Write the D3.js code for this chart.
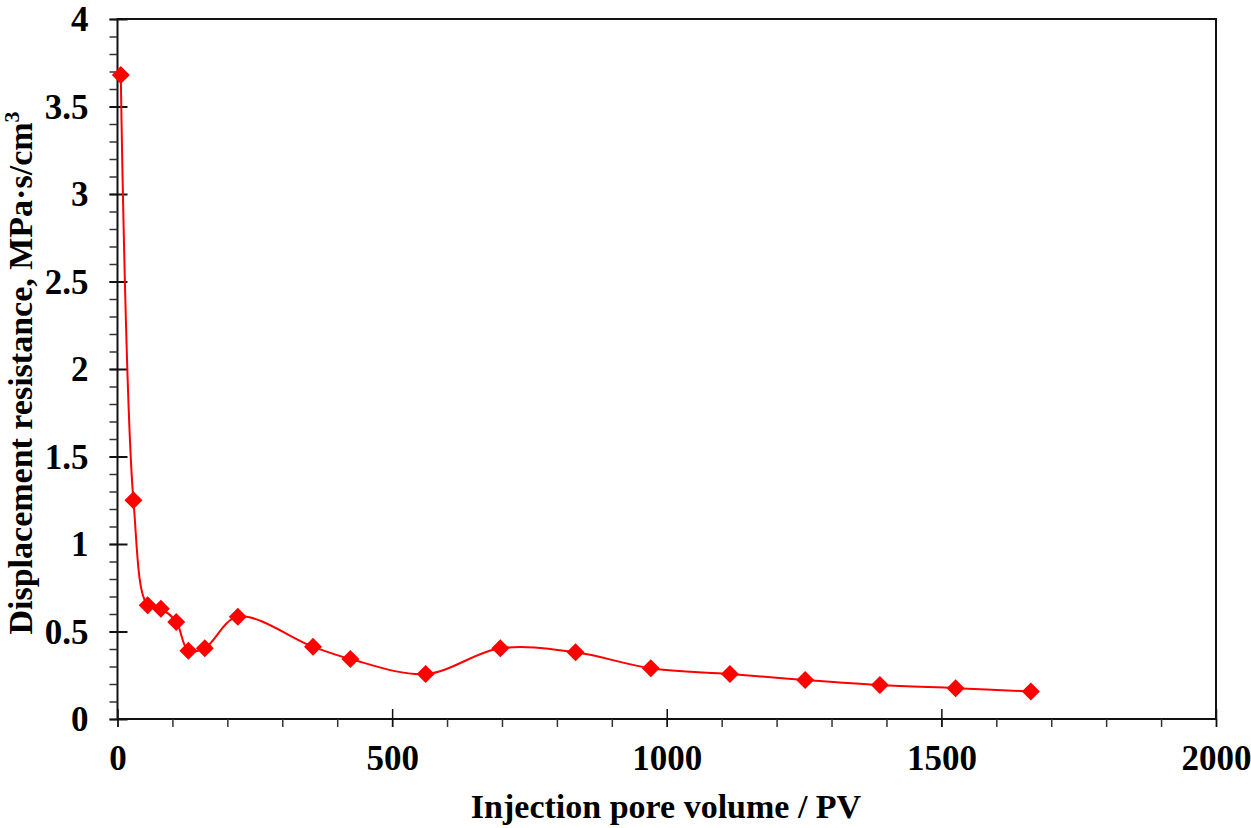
<!DOCTYPE html>
<html>
<head>
<meta charset="utf-8">
<script src="https://cdn.jsdelivr.net/npm/d3@7"></script>
<style>
  body { margin: 0; background: #fff; }
  svg text { font-family: "Liberation Serif", "Times New Roman", serif; font-weight: bold; fill: #000; }
</style>
</head>
<body>
<svg width="1251" height="828"></svg>
<script>
// data
const pv = [6, 29, 55, 79, 107, 129, 159, 219, 356, 424, 561, 697, 834, 971, 1115, 1252, 1388, 1526, 1663];
const resistance = [3.68, 1.25, 0.65, 0.63, 0.555, 0.39, 0.405, 0.585, 0.413, 0.343, 0.257, 0.404, 0.381, 0.29, 0.257, 0.223, 0.194, 0.176, 0.157];
const xMajorTicks = [0, 500, 1000, 1500, 2000];
const yMajorTicks = [0, 0.5, 1, 1.5, 2, 2.5, 3, 3.5, 4];

function main() {
  var svg = d3.select("svg"),
    left = 117.5,
    right = 1216,
    top = 19,
    bottom = 719;

  var x = d3.scaleLinear().domain([0, 2000]).range([left, right]);
  var y = d3.scaleLinear().domain([0, 4]).range([bottom, top]);

  // frame
  svg.append("rect")
    .attr("x", left).attr("y", top)
    .attr("width", right - left).attr("height", bottom - top)
    .attr("fill", "none").attr("stroke", "#111").attr("stroke-width", 2);

  // minor ticks
  svg.append("g")
    .attr("transform", "translate(0," + bottom + ")")
    .call(d3.axisBottom(x).ticks(20).tickSize(8).tickFormat(""))
    .call((g) => g.select(".domain").remove())
    .selectAll("line").attr("stroke", "#333").attr("stroke-width", 1.5);
  svg.append("g")
    .attr("transform", "translate(" + left + ",0)")
    .call(d3.axisLeft(y).ticks(40).tickSize(8).tickFormat(""))
    .call((g) => g.select(".domain").remove())
    .selectAll("line").attr("stroke", "#333").attr("stroke-width", 1.5);

  // major ticks + labels
  var xAxis = svg.append("g")
    .attr("transform", "translate(0," + bottom + ")")
    .call(d3.axisBottom(x).tickValues(xMajorTicks).tickSize(8).tickFormat(d3.format("d")));
  xAxis.select(".domain").remove();
  xAxis.selectAll(".tick line").attr("y1", -10).attr("stroke", "#111").attr("stroke-width", 1.5);
  xAxis.selectAll(".tick text")
    .attr("y", 51).attr("dy", 0)
    .style("font-size", "35px");

  var yAxis = svg.append("g")
    .attr("transform", "translate(" + left + ",0)")
    .call(d3.axisLeft(y).tickValues(yMajorTicks).tickSize(8).tickFormat((d) => String(d)));
  yAxis.select(".domain").remove();
  yAxis.selectAll(".tick line").attr("x1", 10).attr("stroke", "#111").attr("stroke-width", 2);
  yAxis.selectAll(".tick text")
    .attr("x", -29).attr("dy", "0.34em")
    .style("font-size", "35px");

  // axis titles
  svg.append("text")
    .attr("x", 666)
    .attr("y", 818)
    .attr("text-anchor", "middle")
    .style("font-size", "34px")
    .text("Injection pore volume / PV");

  var yt = svg.append("text")
    .attr("transform", "translate(32," + 373 + ") rotate(-90)")
    .attr("text-anchor", "middle")
    .style("font-size", "34px");
  yt.append("tspan").text("Displacement resistance, MPa\u00b7s/cm");
  yt.append("tspan").attr("dy", -13).style("font-size", "22px").text("3");

  // data
  var points = pv.map((d, i) => [d, resistance[i]]);

  var line = d3.line()
    .x((d) => x(d[0]))
    .y((d) => y(d[1]))
    .curve(d3.curveCatmullRom.alpha(0.5));

  svg.append("path")
    .datum(points)
    .attr("d", line)
    .attr("fill", "none")
    .attr("stroke", "#ff0000")
    .attr("stroke-width", 2);

  var r = 9;
  svg.append("g")
    .selectAll("path")
    .data(points)
    .enter()
    .append("path")
    .attr("transform", (d) => "translate(" + x(d[0]) + "," + y(d[1]) + ")")
    .attr("d", "M0," + -r + "L" + r + ",0L0," + r + "L" + -r + ",0Z")
    .attr("fill", "#ff0000");
}

main();
</script>
</body>
</html>
